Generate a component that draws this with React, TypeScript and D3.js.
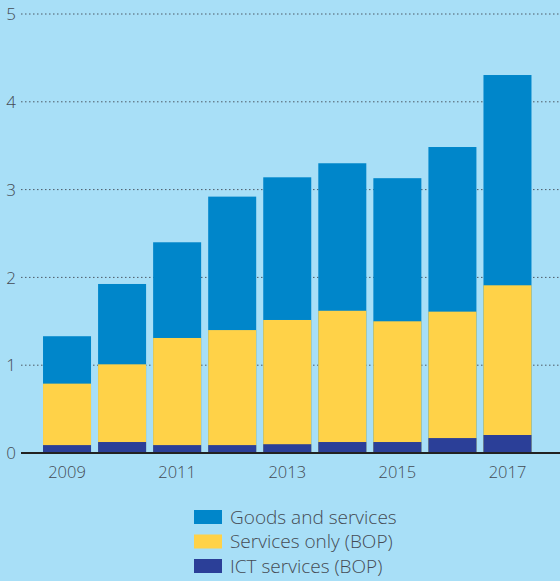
import React from "react";
import * as d3 from "d3";

const years = ["2009", "2010", "2011", "2012", "2013", "2014", "2015", "2016", "2017"];
const goodsAndServices = [1.33, 1.925, 2.4, 2.92, 3.14, 3.3, 3.13, 3.485, 4.305];
const servicesOnly = [0.79, 1.01, 1.31, 1.4, 1.515, 1.62, 1.5, 1.61, 1.91];
const ictServices = [0.09, 0.125, 0.09, 0.09, 0.1, 0.125, 0.125, 0.17, 0.205];
const yTicks = [0, 1, 2, 3, 4, 5];
const xTickLabels = ["2009", "2011", "2013", "2015", "2017"];
const legendLabels = ["Goods and services", "Services only (BOP)", "ICT services (BOP)"];

const W = 560;
const H = 581;
const BG = "#a8dff7";
const COLORS = ["#0086ca", "#ffd248", "#2b3f98"];
const TEXT = "#454b54";
const FONT = "'Open Sans', 'Noto Sans', sans-serif";

export default function App() {
  const x = d3.scaleBand<string>().domain(years).range([39.5, 535]).paddingInner(0.128).paddingOuter(0.064);
  const y = d3.scaleLinear().domain([0, 5]).range([453, 14]);
  const series = [goodsAndServices, servicesOnly, ictServices];

  return (
    <svg width={W} height={H} style={{ position: "absolute", left: 0, top: 0, display: "block" }} fontFamily={FONT}>
      <rect x={0} y={0} width={W} height={H} fill={BG} />
      {yTicks.filter((t) => t > 0).map((t) => (
        <line key={"g" + t} x1={21} x2={W} y1={y(t)} y2={y(t)} stroke="#4d5a66" strokeWidth={1} strokeDasharray="1.5,2.5" />
      ))}
      {yTicks.map((t) => (
        <text key={"yt" + t} x={11} y={y(t)} dy="0.36em" textAnchor="middle" fontSize={17} fill={TEXT} fontWeight={300}>
          {t}
        </text>
      ))}
      {series.map((vals, si) =>
        years.map((yr, i) => (
          <rect
            key={si + "-" + yr}
            x={x(yr)!}
            width={x.bandwidth()}
            y={y(vals[i])}
            height={y(0) - y(vals[i])}
            fill={COLORS[si]}
          />
        ))
      )}
      <line x1={21} x2={W} y1={y(0)} y2={y(0)} stroke="#222" strokeWidth={1.8} />
      {xTickLabels.map((l) => (
        <text key={"xt" + l} x={x(l)! + x.bandwidth() / 2} y={478} textAnchor="middle" fontSize={16.5} fill={TEXT} fontWeight={300}>
          {l}
        </text>
      ))}
      {legendLabels.map((l, i) => (
        <g key={"lg" + l} transform={`translate(194, ${510 + i * 24.5})`}>
          <rect x={0} y={0} width={28} height={14} fill={COLORS[i]} />
          <text x={36} y={7} dy="0.36em" fontSize={19} fill={TEXT} fontWeight={300}>
            {l}
          </text>
        </g>
      ))}
    </svg>
  );
}
